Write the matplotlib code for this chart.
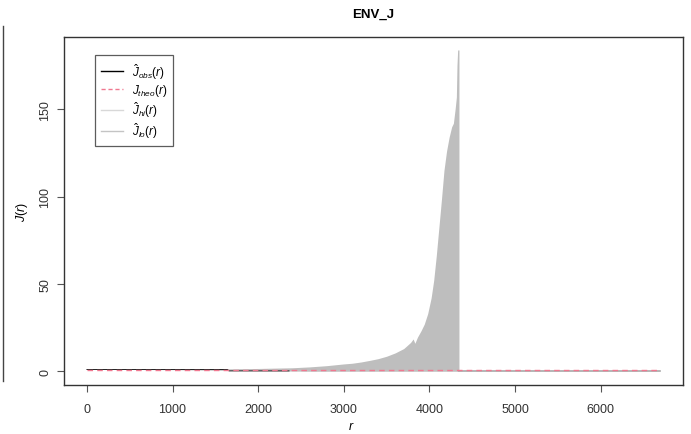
import matplotlib
matplotlib.use("Agg")
import matplotlib.pyplot as plt
import numpy as np

plt.rcParams["font.family"] = ["Liberation Sans", "DejaVu Sans"]
plt.rcParams["mathtext.fontset"] = "custom"
plt.rcParams["mathtext.rm"] = "Liberation Sans"
plt.rcParams["mathtext.it"] = "Liberation Sans:italic"

# envelope of J(r): distances and upper/lower bounds
r_env = [0, 500, 1000, 1500, 2000, 2400, 2600, 2800, 3000, 3100, 3200, 3300,
         3400, 3500, 3600, 3700, 3780, 3810, 3830, 3860, 3900, 3940, 3980,
         4020, 4050, 4080, 4110, 4140, 4170, 4200, 4230, 4260, 4280, 4300,
         4315, 4322, 4330, 4345]
hi_env = [1.0, 1.0, 1.1, 1.3, 1.6, 2.0, 2.5, 3.2, 4.2, 4.6, 5.3, 6.2,
          7.2, 8.6, 10.5, 13.0, 16.5, 18.5, 16.0, 19.5, 23.0, 27.0, 33.0,
          42.0, 52.0, 66.0, 82.0, 98.0, 115.0, 126.0, 134.0, 140.0, 142.0, 150.0,
          157.0, 175.0, 184.0, 184.0]
lo_env = [1.0, 1.0, 0.9, 0.6, 0.3, 0.1, 0.0, 0.0, 0.0, 0.0, 0.0, 0.0,
          0.0, 0.0, 0.0, 0.0, 0.0, 0.0, 0.0, 0.0, 0.0, 0.0, 0.0,
          0.0, 0.0, 0.0, 0.0, 0.0, 0.0, 0.0, 0.0, 0.0, 0.0, 0.0,
          0.0, 0.0, 0.0, 0.0]

# lower bound beyond the shaded range
r_tail = [4345, 5000, 6000, 6690]
lo_tail = [0.0, 0.0, 0.0, 0.0]

# observed and theoretical J(r)
r_obs = [0, 500, 1000, 1500, 1640, 1660, 2000, 2360]
j_obs = [1.0, 1.0, 1.0, 1.0, 1.0, 0.2, 0.2, 0.2]
r_theo = [0, 6690]
j_theo = [1.0, 1.0]

fig = plt.figure(figsize=(6.91, 4.35), dpi=100)
ax = fig.add_axes([64 / 691, 1 - 385.7 / 435, 619 / 691, 348 / 435])

ax.fill_between(r_env, lo_env, hi_env, color="#bebebe", linewidth=0)
ax.plot(r_tail, lo_tail, color="#a8a8a8", lw=1.2)
ax.plot(r_obs, j_obs, color="#222222", lw=0.7)
ax.plot(r_theo, j_theo, color="#f07890", lw=1, ls=(0, (4, 3)))

ax.set_xlim(-268, 6962)
ax.set_ylim(-7.7, 191.6)
ax.set_xticks([0, 1000, 2000, 3000, 4000, 5000, 6000])
ax.set_yticks([0, 50, 100, 150])
ax.tick_params(direction="out", length=5, width=0.8, colors="#555555",
               labelsize=9, labelcolor="#333333")
ax.tick_params(axis="x", pad=8)
ax.tick_params(axis="y", pad=4)
for lab in ax.get_yticklabels():
    lab.set_rotation(90)
    lab.set_va("center")
for s in ax.spines.values():
    s.set_color("#333333")
    s.set_linewidth(1)

ax.set_title("ENV_J", fontsize=9.5, fontweight="bold", pad=14)
ax.set_xlabel("$r$", fontsize=9, va="center")
ax.set_ylabel("$J(r)$", fontsize=9, va="center")
ax.xaxis.set_label_coords(0.464, -0.12)
ax.yaxis.set_label_coords(-0.068, 0.5)

handles = [
    plt.Line2D([], [], color="black", lw=1),
    plt.Line2D([], [], color="#f07890", lw=1, ls=(0, (3, 2))),
    plt.Line2D([], [], color="#d8d8d8", lw=1),
    plt.Line2D([], [], color="#c4c4c4", lw=1),
]
labels = [r"$\hat{J}_{obs}(r)$", r"$J_{theo}(r)$", r"$\hat{J}_{hi}(r)$",
          r"$\hat{J}_{lo}(r)$"]
leg = ax.legend(handles, labels, loc="upper left", bbox_to_anchor=(0.05, 0.947),
                fontsize=8.5, frameon=True, fancybox=False, handlelength=1.9,
                borderpad=0.5, labelspacing=0.12, handletextpad=0.7,
                borderaxespad=0)
leg.get_frame().set_edgecolor("#333333")
leg.get_frame().set_linewidth(0.9)

# border of the neighbouring panel on the left
fig.add_artist(plt.Line2D([3 / 691, 3 / 691], [1 - 27 / 435, 1 - 382 / 435],
                          color="#444444", lw=1))

fig.savefig("out.png", dpi=100)
